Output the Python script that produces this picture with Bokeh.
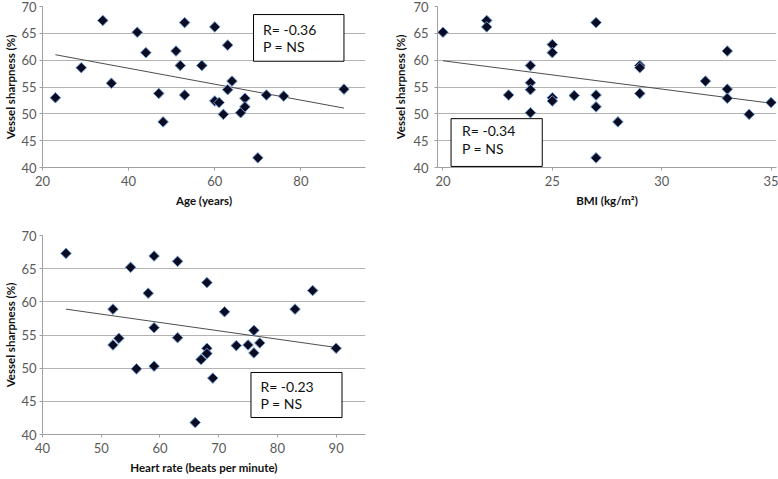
import numpy as np
from bokeh.plotting import figure
from bokeh.models import Range1d, FixedTicker, BoxAnnotation, Label, ColumnDataSource
from bokeh.layouts import column, row
from bokeh.embed import file_html
from bokeh.resources import INLINE

# ---------------- data ----------------
sharp_ticks = [40, 45, 50, 55, 60, 65, 70]

age = [23, 29, 34, 36, 42, 44, 47, 48, 51, 52, 53, 53, 57, 60, 63, 60, 61, 62,
       63, 64, 66, 67, 67, 70, 72, 76, 90]
sharp_age = [53.0, 58.6, 67.4, 55.7, 65.2, 61.4, 53.8, 48.5, 61.7, 59.0, 67.0, 53.5,
             59.0, 66.2, 62.8, 52.4, 52.1, 49.9, 54.5, 56.1, 50.2, 52.9, 51.3, 41.8,
             53.5, 53.3, 54.6]
age_ticks = [20, 40, 60, 80]

bmi = [20, 22, 22, 23, 24, 24, 24, 24, 25, 25, 25, 25, 26, 27, 27, 27, 27, 28,
       29, 29, 29, 32, 33, 33, 33, 34, 35]
sharp_bmi = [65.2, 67.4, 66.2, 53.5, 59.0, 55.8, 54.5, 50.2, 62.9, 61.4, 53.0, 52.4,
             53.4, 67.0, 53.5, 51.3, 41.8, 48.5, 59.0, 58.6, 53.8, 56.1, 61.7, 54.6,
             52.9, 49.9, 52.1]
bmi_ticks = [20, 25, 30, 35]

hr = [44, 52, 52, 53, 55, 56, 58, 59, 59, 59, 63, 63, 66, 67, 68, 68, 68, 69,
      71, 73, 75, 76, 76, 77, 83, 86, 90]
sharp_hr = [67.3, 58.9, 53.5, 54.5, 65.2, 49.9, 61.3, 66.9, 56.1, 50.3, 66.1, 54.6,
            41.8, 51.3, 62.9, 53.0, 52.2, 48.5, 58.5, 53.4, 53.5, 55.7, 52.3, 53.8,
            58.9, 61.7, 53.0]
hr_ticks = [40, 50, 60, 70, 80, 90]

stats_age = ["R= -0.36", "P = NS"]
stats_bmi = ["R= -0.34", "P = NS"]
stats_hr = ["R= -0.23", "P = NS"]

FONT = "Lato"
GRID = "#b3b3b3"
AXIS = "#a0a0a0"


def panel(x, y, xlabel, xticks, xrange, width, height, mbl, mbr, mbt, mbb,
          ylab_standoff, ytitle_standoff, box, text_x, text_ys, texts):
    p = figure(width=width, height=height, output_backend="svg", toolbar_location=None,
               x_range=Range1d(*xrange), y_range=Range1d(40, 70),
               min_border_left=mbl, min_border_right=mbr,
               min_border_top=mbt, min_border_bottom=mbb)
    p.outline_line_color = None
    p.background_fill_color = "white"
    p.xgrid.visible = False
    p.ygrid.grid_line_color = GRID
    p.ygrid.grid_line_width = 1
    p.xaxis.ticker = FixedTicker(ticks=xticks)
    p.yaxis.ticker = FixedTicker(ticks=sharp_ticks)
    for ax in (p.xaxis[0], p.yaxis[0]):
        ax.axis_line_color = AXIS
        ax.major_tick_line_color = AXIS
        ax.minor_tick_line_color = None
        ax.major_tick_in = 0
        ax.major_tick_out = 3
        ax.major_label_text_font = FONT
        ax.major_label_text_font_size = "13px"
        ax.major_label_text_color = "#595959"
        ax.axis_label_text_font = FONT
        ax.axis_label_text_font_size = "11.5px"
        ax.axis_label_text_font_style = "bold"
        ax.axis_label_text_color = "#111111"
    p.xaxis.axis_label = xlabel
    p.xaxis.major_label_standoff = 5
    p.xaxis.axis_label_standoff = 5
    p.yaxis.axis_label = "Vessel sharpness (%)"
    p.yaxis.major_label_standoff = ylab_standoff
    p.yaxis.axis_label_standoff = ytitle_standoff

    # trend line (least-squares fit of the data)
    xa = np.array(x, dtype=float)
    ya = np.array(y, dtype=float)
    k, b = np.polyfit(xa, ya, 1)
    xs = [xa.min(), xa.max()]
    p.line(xs, [k * v + b for v in xs], line_color="#4d4d4d", line_width=1)

    src = ColumnDataSource(dict(x=x, y=y))
    p.scatter("x", "y", source=src, marker="square", angle=np.pi / 4, size=7.5,
              fill_color="#0b0b22", line_color="#6e9bd3", line_width=1)

    l, r, btm, top = box
    p.add_layout(BoxAnnotation(left=l, right=r, bottom=btm, top=top,
                               fill_color="white", fill_alpha=1.0,
                               line_color="#000000", line_width=1, line_alpha=1.0))
    for t, ty in zip(texts, text_ys):
        p.add_layout(Label(x=text_x, y=ty, text=t, text_font=FONT,
                           text_font_size="14px", text_color="#111111",
                           text_baseline="middle", text_align="left"))
    return p


p1 = panel(age, sharp_age, "Age (years)", age_ticks, (20, 95), 390, 229,
           42, 25, 6, 62, 3, 1, (69, 90, 59.8, 68.5), 71.2, [65.7, 62.5], stats_age)
p2 = panel(bmi, sharp_bmi, "BMI (kg/m\u00b2)", bmi_ticks, (19.75, 35.25), 388, 229,
           47, 2, 6, 62, 6, 3, (20.37, 24.54, 40.2, 49.1), 20.87, [46.85, 43.5], stats_bmi)
p3 = panel(hr, sharp_hr, "Heart rate (beats per minute)", hr_ticks, (40, 95), 390, 249,
           42, 25, 6, 44, 3, 1, (75.5, 91.0, 42.56, 49.35), 77.1, [47.3, 44.6], stats_hr)

layout = column(row(p1, p2), p3)
open("out.html", "w").write(file_html(layout, INLINE))
